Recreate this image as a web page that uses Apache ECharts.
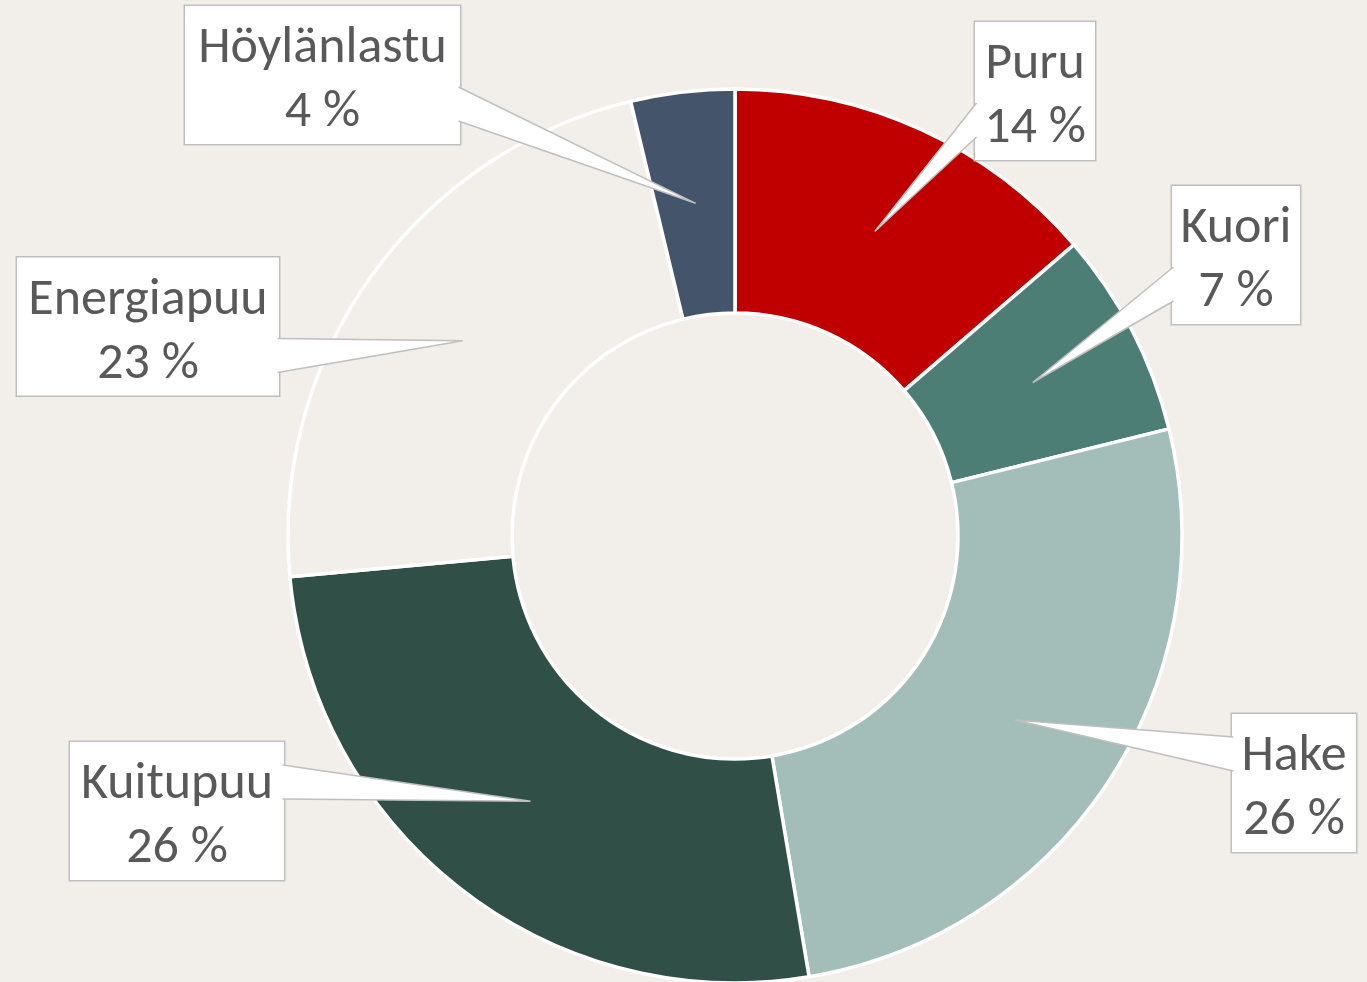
<!DOCTYPE html>
<html><head><meta charset="utf-8">
<script src="https://cdn.jsdelivr.net/npm/echarts@6/dist/echarts.min.js"></script>
<style>html,body{margin:0;padding:0;background:#F2EFEA}#c{width:1367px;height:982px}</style>
</head><body><div id="c"></div>
<script>
// ---- data ----
const categories = ['Puru', 'Kuori', 'Hake', 'Kuitupuu', 'Energiapuu', 'Höylänlastu'];
const values = [13.7, 7.45, 26.2, 26.2, 22.7, 3.75];
const colors = ['#C00000', '#4D7E76', '#A3BDB8', '#2F4F47', '#F2EFEA', '#44546A'];

// ---- layout (label box centre and size, px) ----
const boxes = [
  {cx: 1035, cy: 91, w: 120},
  {cx: 1236, cy: 255, w: 128},
  {cx: 1294, cy: 783, w: 124},
  {cx: 177, cy: 811, w: 214},
  {cx: 148, cy: 326.5, w: 262},
  {cx: 322.5, cy: 75, w: 275}
];
const CX = 735, CY = 536, R0 = 223, R1 = 447, TIP_R = 335;

const total = values.reduce((a, b) => a + b, 0);
let acc = 0;
const wedges = values.map((v, i) => {
  const mid = (acc + v / 2) / total * 2 * Math.PI; acc += v;
  const tx = CX + TIP_R * Math.sin(mid), ty = CY - TIP_R * Math.cos(mid);
  const b = boxes[i];
  const left = b.cx - b.w / 2, right = b.cx + b.w / 2;
  const bx = tx > right ? right - 1.5 : left + 1.5;
  const by = b.cy + Math.sign(ty - b.cy) * 29;
  return {
    type: 'polyline', z: 100, silent: true,
    shape: {points: [[bx, by - 17], [tx, ty], [bx, by + 17]]},
    style: {fill: '#ffffff', stroke: '#BFBFBF', lineWidth: 1.5}
  };
});

const data = categories.map((n, i) => ({
  name: n, value: values[i],
  itemStyle: {color: colors[i]},
  label: {width: boxes[i].w}
}));

const txt = {
  color: '#595959',
  fontFamily: 'Carlito, Lato, sans-serif',
  fontSize: 52,
  lineHeight: 64,
  align: 'center',
  verticalAlign: 'bottom'
};

const chart = echarts.init(document.getElementById('c'), null, {renderer: 'canvas'});
chart.setOption({
  backgroundColor: '#F2EFEA',
  animation: false,
  graphic: wedges,
  series: [{
    type: 'pie',
    center: [CX, CY],
    radius: [R0, R1],
    startAngle: 90,
    clockwise: true,
    percentPrecision: 0,
    avoidLabelOverlap: false,
    silent: true,
    itemStyle: {borderColor: '#ffffff', borderWidth: 3.5},
    label: {
      show: true,
      position: 'outside',
      formatter: '{t|{b}}\n{t|{d} %}',
      color: '#595959',
      fontFamily: 'Carlito, Lato, sans-serif',
      fontSize: 52,
      lineHeight: 64,
      align: 'center',
      rich: {t: txt},
      backgroundColor: '#ffffff',
      borderColor: '#BFBFBF',
      borderWidth: 1.5,
      padding: [5, 0, 5, 0]
    },
    labelLine: {show: false},
    labelLayout: function (p) {
      const b = boxes[p.dataIndex];
      return {x: b.cx, y: b.cy, align: 'center', verticalAlign: 'middle'};
    },
    data: data
  }]
});
</script></body></html>
